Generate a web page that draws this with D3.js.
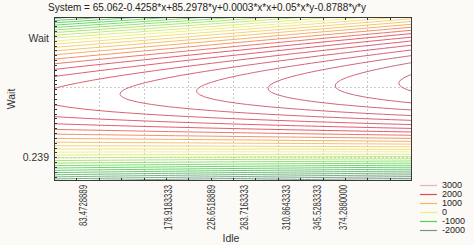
<!DOCTYPE html>
<html>
<head>
<meta charset="utf-8">
<script src="https://cdn.jsdelivr.net/npm/d3@7"></script>
<style>
body { margin: 0; background: #fcfaf6; }
svg { display: block; font-family: "Liberation Sans", Arial, sans-serif; }
</style>
</head>
<body>
<div id="chart"></div>
<script>
// -------------------- Data --------------------

const TITLE = "System = 65.062-0.4258*x+85.2978*y+0.0003*x*x+0.05*x*y-0.8788*y*y";
// constant, x, y, x*x, x*y, y*y
const coefs = [65.062, -0.4258, 85.2978, 0.0003, 0.05, -0.8788];

const xDomain = [51, 451];
const yDomain = [-19.5, 115.5];

const xTickValues = [83.4728889, 178.9183333, 226.6518889, 263.7163333, 310.8643333, 345.5283333, 374.2880000];
const xTickLabels = ["83.4728889", "178.9183333", "226.6518889", "263.7163333", "310.8643333", "345.5283333", "374.2880000"];
const yTickValues = [98, 0.239];
const yTickLabels = ["Wait", "0.239"];

const xGrid = [101, 151, 201, 251, 301, 351, 401];
const yGrid = [0.239, 57.7];

// legend swatches
const legendLevels = [3000, 2000, 1000, 0, -1000, -2000];
const legendColors = ["#dab8c2", "#e04a5a", "#f6b850", "#eeee80", "#4fd24f", "#6f9a80"];

// colours used along the contour lines (as seen in the plot)
const lineStops = [-2000, -800, 400, 1100, 1800, 3000];
const lineColors = ["#6f9a80", "#55d455", "#eeee78", "#f6b454", "#e04a5a", "#c25a70"];


// -------------------- Layout --------------------

const WIDTH = 474;
const HEIGHT = 245;
const plot = { left: 54, top: 17, right: 412, bottom: 181 };

const svg = d3.select("#chart")
    .append("svg")
    .attr("width", WIDTH)
    .attr("height", HEIGHT);

const x = d3.scaleLinear().domain(xDomain).range([plot.left, plot.right]);
const y = d3.scaleLinear().domain(yDomain).range([plot.bottom, plot.top]);

const colorScale = d3.scaleLinear()
    .domain(lineStops)
    .range(lineColors)
    .clamp(true);

const system = (a, b) =>
    coefs[0] + coefs[1] * a + coefs[2] * b + coefs[3] * a * a + coefs[4] * a * b + coefs[5] * b * b;

// plot background
svg.append("rect")
    .attr("x", plot.left).attr("y", plot.top)
    .attr("width", plot.right - plot.left)
    .attr("height", plot.bottom - plot.top)
    .attr("fill", "#fff");

svg.append("clipPath").attr("id", "clip")
    .append("rect")
    .attr("x", plot.left).attr("y", plot.top)
    .attr("width", plot.right - plot.left)
    .attr("height", plot.bottom - plot.top);

// grid lines
const gridGroup = svg.append("g")
    .attr("stroke", "#cccccc")
    .attr("stroke-width", 1)
    .attr("stroke-dasharray", "2,2");
gridGroup.selectAll(".gx")
    .data(xGrid)
    .join("line")
    .attr("x1", d => Math.round(x(d)) + 0.5).attr("x2", d => Math.round(x(d)) + 0.5)
    .attr("y1", plot.top).attr("y2", plot.bottom);
gridGroup.selectAll(".gy")
    .data(yGrid)
    .join("line")
    .attr("class", "gy")
    .attr("y1", d => Math.round(y(d)) + 0.5).attr("y2", d => Math.round(y(d)) + 0.5)
    .attr("x1", plot.left).attr("x2", plot.right);


// ***** CONTOURS *****
// the surface is evaluated on a grid a bit larger than the plot, then clipped
const gx0 = xDomain[0] - 16, gx1 = xDomain[1] + 16, gStepX = 8;
const gyTop = yDomain[1] + 6, gyBottom = yDomain[0] - 6, gStepY = 2;
const nx = Math.round((gx1 - gx0) / gStepX) + 1;
const ny = Math.round((gyTop - gyBottom) / gStepY) + 1;

const values = new Array(nx * ny);
for (let j = 0; j < ny; j++) {
    for (let i = 0; i < nx; i++) {
        values[j * nx + i] = system(gx0 + i * gStepX, gyTop - j * gStepY);
    }
}

const levels = d3.range(-3000, 3401, 200);
const contours = d3.contours().size([nx, ny]).thresholds(levels)(values);

const gridToPixel = d3.geoTransform({
    point: function (gxp, gyp) {
        this.stream.point(x(gx0 + (gxp - 0.5) * gStepX), y(gyTop - (gyp - 0.5) * gStepY));
    }
});
const contourPath = d3.geoPath(gridToPixel);

svg.append("g")
    .attr("clip-path", "url(#clip)")
    .attr("fill", "none")
    .attr("stroke-width", 1)
    .attr("stroke-opacity", 0.9)
    .selectAll("path")
    .data(contours)
    .join("path")
    .attr("d", contourPath)
    .attr("stroke", d => colorScale(d.value));


// ***** AXES *****
const axisGroup = svg.append("g").attr("stroke", "#333").attr("stroke-width", 1);

// inward ticks along top and bottom
const xMinor = d3.range(76, 451, 25);
axisGroup.selectAll(".tb")
    .data(xMinor)
    .join("line")
    .attr("x1", d => Math.round(x(d)) + 0.5).attr("x2", d => Math.round(x(d)) + 0.5)
    .attr("y1", plot.bottom).attr("y2", plot.bottom - 3);
axisGroup.selectAll(".tt")
    .data(xMinor)
    .join("line")
    .attr("class", "tt")
    .attr("x1", d => Math.round(x(d)) + 0.5).attr("x2", d => Math.round(x(d)) + 0.5)
    .attr("y1", plot.top).attr("y2", plot.top + 3);

// inward ticks along the left side
const yMinor = d3.range(-16, 115, 4);
axisGroup.selectAll(".tl")
    .data(yMinor)
    .join("line")
    .attr("class", "tl")
    .attr("y1", d => Math.round(y(d)) + 0.5).attr("y2", d => Math.round(y(d)) + 0.5)
    .attr("x1", plot.left).attr("x2", plot.left + 3);

// frame
svg.append("rect")
    .attr("x", plot.left + 0.5).attr("y", plot.top + 0.5)
    .attr("width", plot.right - plot.left - 1)
    .attr("height", plot.bottom - plot.top - 1)
    .attr("fill", "none")
    .attr("stroke", "#3a3a3a");

// x tick labels, rotated
svg.append("g")
    .attr("font-size", 10)
    .attr("fill", "#333")
    .selectAll("text")
    .data(xTickValues)
    .join("text")
    .attr("transform", d => `translate(${x(d)},${plot.bottom + 4}) rotate(-90)`)
    .attr("text-anchor", "end")
    .attr("dy", "0.35em")
    .attr("textLength", (d, i) => xTickLabels[i].length * 4.1)
    .attr("lengthAdjust", "spacingAndGlyphs")
    .text((d, i) => xTickLabels[i]);

// y tick labels
svg.append("g")
    .attr("font-size", 10.5)
    .attr("fill", "#333")
    .selectAll("text")
    .data(yTickValues)
    .join("text")
    .attr("x", plot.left - 5)
    .attr("y", d => y(d))
    .attr("dy", "0.35em")
    .attr("text-anchor", "end")
    .text((d, i) => yTickLabels[i]);

// titles
svg.append("text")
    .attr("x", 48).attr("y", 11)
    .attr("font-size", 10)
    .attr("fill", "#222")
    .text(TITLE);

svg.append("text")
    .attr("x", (plot.left + plot.right) / 2 - 2).attr("y", 242)
    .attr("font-size", 10.5)
    .attr("fill", "#333")
    .attr("text-anchor", "middle")
    .text("Idle");

svg.append("text")
    .attr("transform", `translate(15,${(plot.top + plot.bottom) / 2}) rotate(-90)`)
    .attr("font-size", 10.5)
    .attr("fill", "#333")
    .attr("text-anchor", "middle")
    .text("Wait");


// ***** LEGEND *****
const legend = svg.append("g")
    .selectAll("g")
    .data(legendLevels)
    .join("g")
    .attr("transform", (d, i) => `translate(420,${185 + i * 9})`);

legend.append("line")
    .attr("x1", 0).attr("x2", 17)
    .attr("y1", 0.5).attr("y2", 0.5)
    .attr("stroke", (d, i) => legendColors[i])
    .attr("stroke-width", 1.2);

legend.append("text")
    .attr("x", 22)
    .attr("dy", "0.35em")
    .attr("font-size", 9)
    .attr("fill", "#222")
    .text(d => d < 0 ? "-" + Math.abs(d) : d);
</script>
</body>
</html>
